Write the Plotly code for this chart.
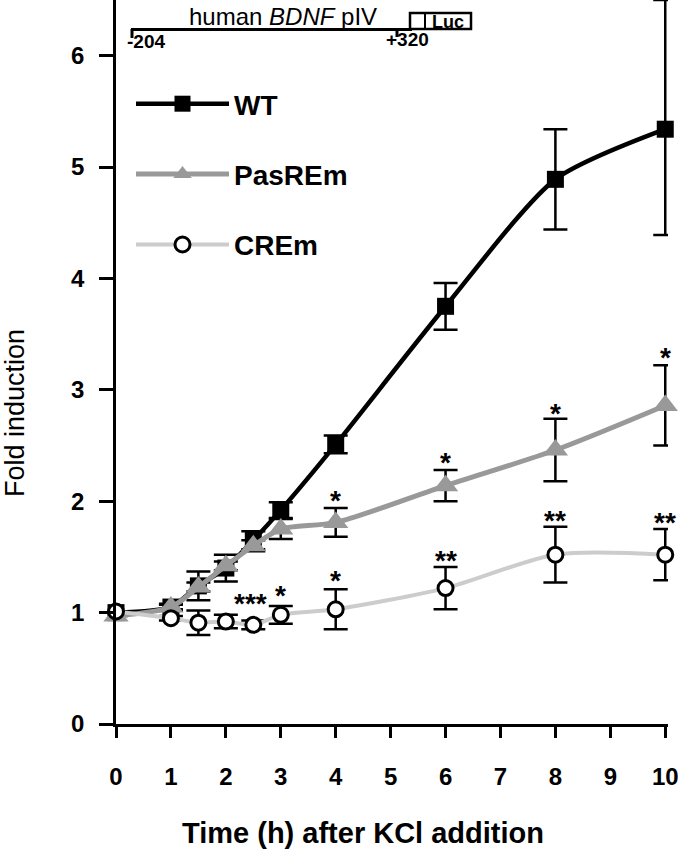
import plotly.graph_objects as go

# ---- data ----
time_h = [0, 1, 1.5, 2, 2.5, 3, 4, 6, 8, 10]
x_tick_vals = [0, 1, 2, 3, 4, 5, 6, 7, 8, 9, 10]
y_tick_vals = [0, 1, 2, 3, 4, 5, 6]

wt = [1.00, 1.05, 1.24, 1.40, 1.65, 1.92, 2.51, 3.75, 4.89, 5.34]
wt_err_up = [0.0, 0.02, 0.13, 0.12, 0.08, 0.07, 0.08, 0.21, 0.45, 1.16]
wt_err_down = [0.0, 0.02, 0.13, 0.12, 0.08, 0.07, 0.08, 0.21, 0.45, 0.95]

pasrem = [0.97, 1.05, 1.23, 1.42, 1.60, 1.75, 1.81, 2.14, 2.46, 2.86]
pasrem_err = [0.0, 0.03, 0.04, 0.04, 0.05, 0.09, 0.13, 0.14, 0.28, 0.36]

crem = [1.01, 0.95, 0.91, 0.92, 0.89, 0.98, 1.03, 1.22, 1.52, 1.52]
crem_err = [0.0, 0.02, 0.11, 0.06, 0.04, 0.08, 0.18, 0.19, 0.25, 0.23]

star_x = [4, 6, 8, 10, 2.44, 3.0, 4, 6, 8, 10]
star_y = [2.08, 2.42, 2.86, 3.36, 1.15, 1.23, 1.36, 1.54, 1.90, 1.88]
star_text = ["*", "*", "*", "*", "***", "*", "*", "**", "**", "**"]

FONT = "Liberation Sans, Arial, sans-serif"

# plot-area geometry in pixels (for the schematic drawn in paper coords)
L, R, T, B = 116, 12, 0, 129
W, H = 680, 853
PW, PH = W - L - R, H - T - B


def px(xp):
    return (xp - L) / PW


def py(yp):
    return (H - B - yp) / PH


fig = go.Figure()

err_style = dict(color="black", thickness=2.5, width=12)

fig.add_trace(go.Scatter(
    x=time_h, y=wt, name="WT", mode="lines+markers",
    line=dict(color="black", width=4.5, shape="spline", smoothing=0.7),
    marker=dict(symbol="square", size=17, color="black"),
    error_y=dict(type="data", symmetric=False, array=wt_err_up,
                 arrayminus=wt_err_down, **err_style),
    cliponaxis=False, legendgroup="a",
))
fig.add_trace(go.Scatter(
    x=time_h, y=pasrem, name="PasREm", mode="lines+markers",
    line=dict(color="#999999", width=5, shape="spline", smoothing=0.8),
    marker=dict(symbol="triangle-up", size=22, color="#999999"),
    error_y=dict(type="data", array=pasrem_err, **err_style),
    cliponaxis=False, legendgroup="b",
))
fig.add_trace(go.Scatter(
    x=time_h, y=crem, name="CREm", mode="lines+markers",
    line=dict(color="#cccccc", width=4, shape="spline", smoothing=0.8),
    marker=dict(symbol="circle", size=15, color="white",
                line=dict(color="black", width=3)),
    error_y=dict(type="data", array=crem_err, **err_style),
    cliponaxis=False, legendgroup="c",
))

annotations = []
for sx, sy, st in zip(star_x, star_y, star_text):
    annotations.append(dict(
        x=sx, y=sy, xref="x", yref="y", text="<b>" + st + "</b>",
        showarrow=False,
        font=dict(family=FONT, size=28, color="black"),
        xanchor="center", yanchor="middle", yshift=-8,
    ))

# axis titles
annotations.append(dict(
    x=px(363), y=py(833), xref="paper", yref="paper",
    text="<b>Time (h) after KCl addition</b>", showarrow=False,
    font=dict(family=FONT, size=29, color="black"),
    xanchor="center", yanchor="middle",
))
annotations.append(dict(
    x=px(15), y=py(413), xref="paper", yref="paper",
    text="Fold induction", showarrow=False, textangle=-90,
    font=dict(family=FONT, size=27, color="black"),
    xanchor="center", yanchor="middle",
))

# promoter schematic
annotations += [
    dict(x=px(283), y=py(16), xref="paper", yref="paper",
         text="human <i>BDNF</i> pIV", showarrow=False,
         font=dict(family=FONT, size=24, color="black"),
         xanchor="center", yanchor="middle"),
    dict(x=px(125), y=py(41), xref="paper", yref="paper",
         text="<b>-204</b>", showarrow=False,
         font=dict(family=FONT, size=19, color="black"),
         xanchor="left", yanchor="middle"),
    dict(x=px(384), y=py(40), xref="paper", yref="paper",
         text="<b>+320</b>", showarrow=False,
         font=dict(family=FONT, size=19, color="black"),
         xanchor="left", yanchor="middle"),
    dict(x=px(448), y=py(22), xref="paper", yref="paper",
         text="<b>Luc</b>", showarrow=False,
         font=dict(family=FONT, size=18, color="black"),
         xanchor="center", yanchor="middle"),
]

shapes = [
    dict(type="line", xref="paper", yref="paper",
         x0=px(131), x1=px(412), y0=py(29.5), y1=py(29.5),
         line=dict(color="black", width=3)),
    dict(type="line", xref="paper", yref="paper",
         x0=px(132), x1=px(132), y0=py(29), y1=py(38),
         line=dict(color="black", width=3)),
    dict(type="line", xref="paper", yref="paper",
         x0=px(397), x1=px(397), y0=py(29), y1=py(37),
         line=dict(color="black", width=3)),
    dict(type="rect", xref="paper", yref="paper",
         x0=px(410), x1=px(471), y0=py(29), y1=py(13),
         line=dict(color="black", width=2.5), fillcolor="rgba(0,0,0,0)"),
    dict(type="line", xref="paper", yref="paper",
         x0=px(425), x1=px(425), y0=py(29), y1=py(13),
         line=dict(color="black", width=2)),
]

fig.update_layout(
    width=W, height=H,
    margin=dict(l=L, r=R, t=T, b=B),
    paper_bgcolor="white", plot_bgcolor="white",
    font=dict(family=FONT, color="black"),
    annotations=annotations, shapes=shapes,
    showlegend=True,
    legend=dict(
        x=px(131), y=py(79), xanchor="left", yanchor="top",
        bgcolor="rgba(0,0,0,0)", borderwidth=0,
        font=dict(family=FONT, size=28, color="black", weight="bold"),
        itemwidth=93, tracegroupgap=31,
    ),
)

fig.update_xaxes(
    range=[0, 10.05], tickvals=x_tick_vals,
    ticktext=[str(v) for v in x_tick_vals],
    showline=True, linecolor="black", linewidth=2.5,
    ticks="outside", ticklen=11, tickwidth=2.5, tickcolor="black",
    tickfont=dict(family=FONT, size=24, color="black", weight="bold"),
    ticklabelstandoff=18,
    showgrid=False, zeroline=False,
)
fig.update_yaxes(
    range=[0, 6.5], tickvals=y_tick_vals,
    ticktext=[str(v) for v in y_tick_vals],
    showline=True, linecolor="black", linewidth=2.5,
    ticks="outside", ticklen=14, tickwidth=2.5, tickcolor="black",
    tickfont=dict(family=FONT, size=24, color="black", weight="bold"),
    ticklabelstandoff=10,
    showgrid=False, zeroline=False,
)

fig.write_html(
    "out.html",
    config={"displayModeBar": False},
    post_script="document.body.style.margin='0';document.body.style.overflow='hidden';",
)
